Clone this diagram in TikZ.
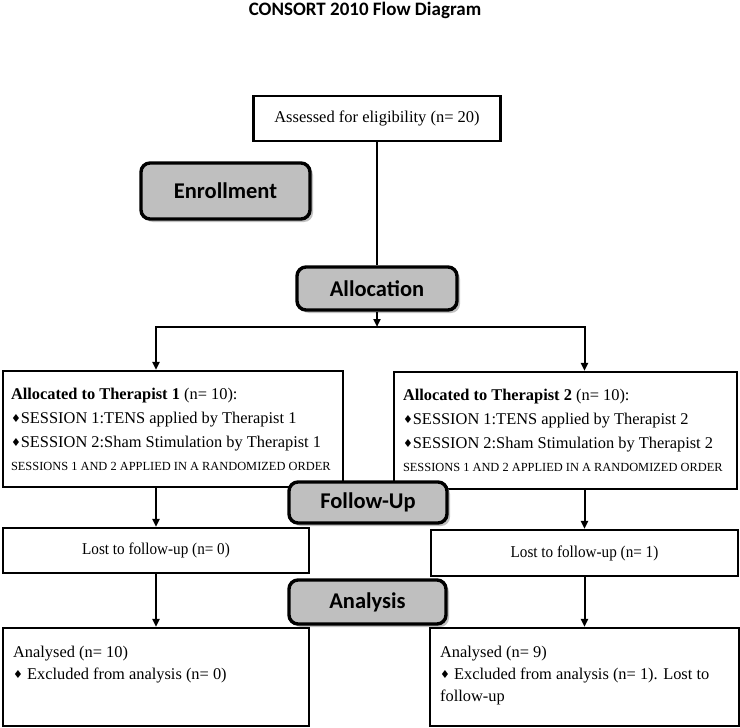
\documentclass[tikz,border=0pt]{standalone}
\usepackage{fontspec}
\setmainfont{Liberation Serif}
\newfontfamily\calib{Carlito}
\newfontfamily\dejavu{DejaVu Sans}
\usetikzlibrary{arrows.meta,shadows}
\definecolor{boxgray}{HTML}{BFBFBF}
\newcommand{\dmd}{{\dejavu\fontsize{11}{10}\selectfont\raisebox{1pt}{♦}}}
\begin{document}
\begin{tikzpicture}[x=1pt,y=-1pt,
  plainbox/.style={draw=black,line width=2.2pt,fill=white,inner sep=0pt},
  stagebox/.style={draw=black,line width=3.4pt,fill=boxgray,rounded corners=9pt,inner sep=0pt,
    font=\calib\bfseries\fontsize{22.5}{26}\selectfont,
    drop shadow={shadow xshift=3pt,shadow yshift=-3pt,fill=black!30,opacity=0.8}},
  arr/.style={line width=2pt,-{Triangle[length=8pt,width=7pt]}},
  ln/.style={line width=2pt},
  txt/.style={font=\fontsize{16.4}{24}\selectfont}
]
\useasboundingbox (0,0) rectangle (740,728);
\node[font=\calib\bfseries\fontsize{19}{22}\selectfont] (title) at (365,10) {CONSORT 2010 Flow Diagram};

\node[plainbox,minimum width=247pt,minimum height=45pt,font=\fontsize{16.5}{20}\selectfont] (assess) at (377,118.5) {Assessed for eligibility (n= 20)};
\node[stagebox,minimum width=169pt,minimum height=56pt] (enrol) at (225.5,191) {Enrollment};
\node[stagebox,minimum width=160pt,minimum height=43pt] (alloc) at (377,288.5) {Allocation};

\node[plainbox,minimum width=340pt,minimum height=116pt,txt,align=flush left,text width=324pt] (a1) at (173,429)
 {\textbf{Allocated to Therapist 1} (n= 10):\\
  \dmd SESSION 1:TENS applied by Therapist 1\\
  \dmd SESSION 2:Sham Stimulation by Therapist 1\\[-1pt]
  {\fontsize{12.4}{14}\selectfont SESSIONS 1 AND 2 APPLIED IN A RANDOMIZED ORDER}};
\node[plainbox,minimum width=343pt,minimum height=117pt,txt,align=flush left,text width=325pt] (a2) at (565.5,430.5)
 {\textbf{Allocated to Therapist 2} (n= 10):\\
  \dmd SESSION 1:TENS applied by Therapist 2\\
  \dmd SESSION 2:Sham Stimulation by Therapist 2\\[-1pt]
  {\fontsize{12.4}{14}\selectfont SESSIONS 1 AND 2 APPLIED IN A RANDOMIZED ORDER}};

\node[stagebox,minimum width=158pt,minimum height=41pt] (follow) at (368,502.5) {Follow-Up};

\node[plainbox,minimum width=306pt,minimum height=45pt,font=\fontsize{16.5}{20}\selectfont] (lost1) at (156,550.5) {\scalebox{0.92}[1]{Lost to follow-up (n= 0)}};
\node[plainbox,minimum width=307pt,minimum height=46pt,font=\fontsize{16.5}{20}\selectfont] (lost2) at (584.5,553) {\scalebox{0.92}[1]{Lost to follow-up (n= 1)}};

\node[stagebox,minimum width=157pt,minimum height=44pt] (analysis) at (367.5,602) {Analysis};

\node[plainbox,minimum width=306pt,minimum height=98pt,
  label={[anchor=north west,txt,align=flush left,text width=290pt,inner sep=0pt,yshift=-19pt,xshift=11pt]north west:{Analysed (n= 10)\\[-2pt]\dmd\ Excluded from analysis (n= 0)}}] (an1) at (156,677) {};
\node[plainbox,minimum width=309pt,minimum height=98pt,
  label={[anchor=north west,txt,align=flush left,text width=290pt,inner sep=0pt,yshift=-19pt,xshift=11pt]north west:{Analysed (n= 9)\\[-2pt]\dmd\ Excluded from analysis (n= 1). Lost to\\[-2pt]follow-up}}] (an2) at (584.5,677) {};

\coordinate (split) at (377,327);
\draw[ln] (assess.south) -- (alloc.north);
\draw[arr] (alloc.south) -- (split);
\draw[arr] (split) -| (lost1.north |- a1.north);
\draw[arr] (split) -| (lost2.north |- a2.north);
\draw[arr] (lost1.north |- a1.south) -- (lost1.north);
\draw[arr] (lost2.north |- a2.south) -- (lost2.north);
\draw[arr] (lost1.south) -- (an1.north);
\draw[arr] (lost2.south) -- (an2.north);
\end{tikzpicture}
\end{document}
